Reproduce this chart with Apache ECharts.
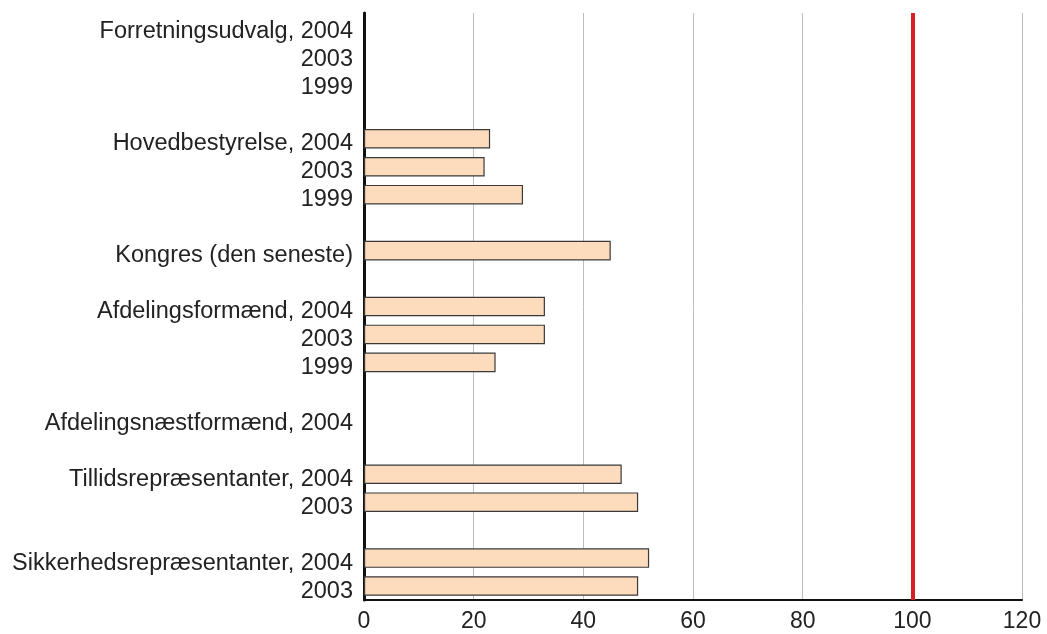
<!DOCTYPE html>
<html><head><meta charset="utf-8">
<script src="https://cdn.jsdelivr.net/npm/echarts@6/dist/echarts.min.js"></script>
<style>html,body{margin:0;padding:0;background:#fff}#c{width:1047px;height:634px}</style>
</head><body><div id="c"></div>
<script>
const categories = [
  'Forretningsudvalg, 2004','2003','1999','',
  'Hovedbestyrelse, 2004','2003','1999','',
  'Kongres (den seneste)','',
  'Afdelingsformænd, 2004','2003','1999','',
  'Afdelingsnæstformænd, 2004','',
  'Tillidsrepræsentanter, 2004','2003','',
  'Sikkerhedsrepræsentanter, 2004','2003'
];
const values = [
  null,null,null,null,
  23,22,29,null,
  45,null,
  33,33,24,null,
  null,null,
  47,50,null,
  52,50
];
const xTicks = { min: 0, max: 120, interval: 20 };
const referenceValue = 100;

const FONT = 'Liberation Sans';
const chart = echarts.init(document.getElementById('c'));
chart.setOption({
  animation: false,
  grid: { left: 364, right: 25, top: 13, bottom: 34, containLabel: false },
  textStyle: { fontFamily: FONT },
  xAxis: {
    type: 'value', min: xTicks.min, max: xTicks.max, interval: xTicks.interval,
    axisLine: { show: true, lineStyle: { color: '#111', width: 2 } },
    axisTick: { show: false },
    axisLabel: { fontSize: 23, color: '#222', margin: 10, fontFamily: FONT },
    splitLine: { show: true, lineStyle: { color: '#bdbdbd', width: 1 } }
  },
  yAxis: {
    type: 'category', inverse: true, data: categories,
    axisLine: { show: true, lineStyle: { color: '#111', width: 3 } },
    axisTick: { show: false },
    axisLabel: { fontSize: 23.5, color: '#222', margin: 11, fontFamily: FONT, interval: 0, verticalAlign: 'top', lineHeight: 10 }
  },
  series: [{
    type: 'bar', data: values, barCategoryGap: '30%',
    itemStyle: { color: '#fddcbd', borderColor: '#3a3a3a', borderWidth: 1.2 },
    markLine: {
      symbol: 'none', silent: true, label: { show: false },
      lineStyle: { color: '#d71f26', width: 4, type: 'solid' },
      data: [{ xAxis: referenceValue }]
    }
  }]
});
</script></body></html>
